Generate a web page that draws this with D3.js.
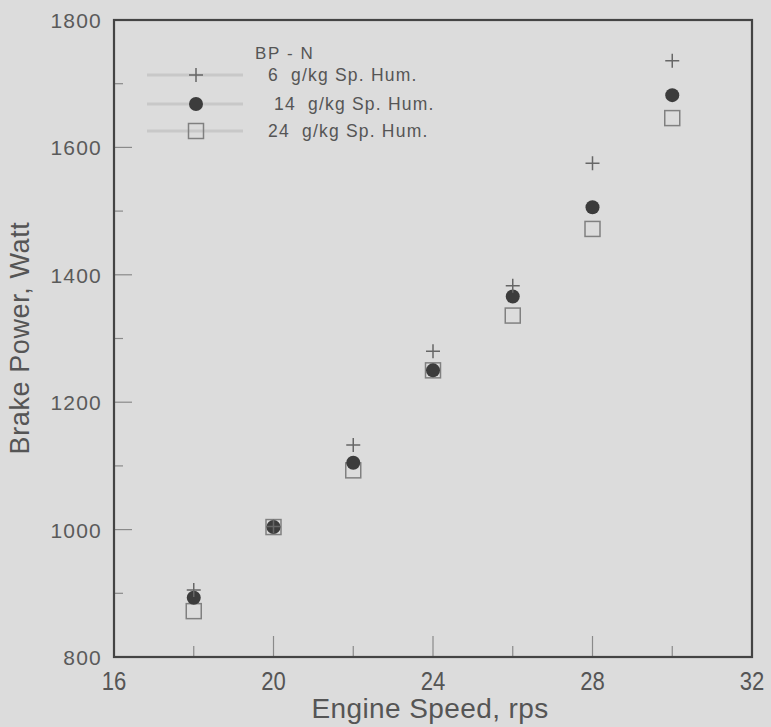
<!DOCTYPE html>
<html><head><meta charset="utf-8">
<script src="https://cdn.jsdelivr.net/npm/d3@7"></script>
<style>body{margin:0;background:#dcdcdc;}svg{display:block;}</style>
</head><body>
<svg id="c" width="771" height="727"></svg>
<script>
const speeds = [18, 20, 22, 24, 26, 28, 30];
const hum6 = [905, 1005, 1133, 1280, 1383, 1575, 1736];
const hum14 = [893, 1004, 1105, 1250, 1366, 1506, 1682];
const hum24 = [872, 1004, 1093, 1250, 1336, 1472, 1646];
const xTicks = [16, 20, 24, 28, 32];
const yTicks = [800, 1000, 1200, 1400, 1600, 1800];
const legendTitle = "BP - N";
const seriesNames = ["6  g/kg Sp. Hum.", " 14  g/kg Sp. Hum.", "24  g/kg Sp. Hum."];

const svg = d3.select("#c");
const L = 114, R = 752, T = 20, B = 657;
const x = d3.scaleLinear().domain([16, 32]).range([L, R]);
const y = d3.scaleLinear().domain([800, 1800]).range([B, T]);
const font = "Liberation Sans, Arial, sans-serif";

// inner ticks
const minorX = [18, 22, 26, 30];
const minorY = [900, 1100, 1300, 1500, 1700];
const tg = svg.append("g").attr("stroke", "#8a8a8a").attr("stroke-width", 1.2);
xTicks.slice(1, -1).forEach(v => tg.append("line").attr("x1", x(v)).attr("x2", x(v)).attr("y1", B).attr("y2", B - 21));
minorX.forEach(v => tg.append("line").attr("x1", x(v)).attr("x2", x(v)).attr("y1", B).attr("y2", B - 11));
yTicks.slice(1, -1).forEach(v => tg.append("line").attr("x1", L).attr("x2", L + 18).attr("y1", y(v)).attr("y2", y(v)));
minorY.forEach(v => tg.append("line").attr("x1", L).attr("x2", L + 9).attr("y1", y(v)).attr("y2", y(v)));

// frame
svg.append("rect").attr("x", L).attr("y", T).attr("width", R - L).attr("height", B - T)
  .attr("fill", "none").attr("stroke", "#444").attr("stroke-width", 2.2);

// tick labels
svg.append("g").selectAll("text").data(xTicks).join("text")
  .attr("transform", d => `translate(${x(d)},${B + 33}) scale(0.92,1.1)`).attr("text-anchor", "middle")
  .attr("font-family", font).attr("font-size", 24).attr("fill", "#555").text(d => d);
svg.append("g").selectAll("text").data(yTicks).join("text")
  .attr("x", L - 12).attr("y", d => y(d) + 8).attr("text-anchor", "end")
  .attr("font-family", font).attr("font-size", 21).attr("letter-spacing", 1.2)
  .attr("fill", "#5a5a5a").text(d => d);

// axis titles
svg.append("text").attr("transform", "translate(430,718)").attr("text-anchor", "middle")
  .attr("font-family", font).attr("font-size", 28).attr("letter-spacing", 0.4).attr("fill", "#555").text("Engine Speed, rps");
svg.append("text").attr("transform", "translate(29,338) rotate(-90)").attr("text-anchor", "middle")
  .attr("font-family", font).attr("font-size", 27).attr("letter-spacing", 0.6).attr("fill", "#555").text("Brake Power, Watt");

// markers
function plus(g, cx, cy) {
  g.append("path").attr("d", `M${cx - 7},${cy}H${cx + 7}M${cx},${cy - 7}V${cy + 7}`)
    .attr("stroke", "#666").attr("stroke-width", 1.5).attr("fill", "none");
}
function dot(g, cx, cy) {
  g.append("circle").attr("cx", cx).attr("cy", cy).attr("r", 7).attr("fill", "#3c3c3c");
}
function sq(g, cx, cy) {
  g.append("rect").attr("x", cx - 7.5).attr("y", cy - 7.5).attr("width", 15).attr("height", 15)
    .attr("fill", "none").attr("stroke", "#808080").attr("stroke-width", 1.5);
}
const mg = svg.append("g");
speeds.forEach((s, i) => sq(mg, x(s), y(hum24[i])));
speeds.forEach((s, i) => dot(mg, x(s), y(hum14[i])));
speeds.forEach((s, i) => plus(mg, x(s), y(hum6[i])));

// legend
const lg = svg.append("g");
lg.append("text").attr("x", 255).attr("y", 59).attr("font-family", font).attr("font-size", 17)
  .attr("letter-spacing", 1.6).attr("fill", "#555").text(legendTitle);
const rows = [75, 104, 131];
const fns = [plus, dot, sq];
rows.forEach((ry, i) => {
  lg.append("line").attr("x1", 147).attr("x2", 243).attr("y1", ry).attr("y2", ry)
    .attr("stroke", "#c8c8c8").attr("stroke-width", 3);
  fns[i](lg, 196, ry);
  lg.append("text").attr("x", 268).attr("y", ry + 6).attr("font-family", font).attr("font-size", 17.5)
    .attr("letter-spacing", 1.2).attr("fill", "#555").attr("xml:space", "preserve")
    .style("white-space", "pre").text(seriesNames[i]);
});
</script>
</body></html>
